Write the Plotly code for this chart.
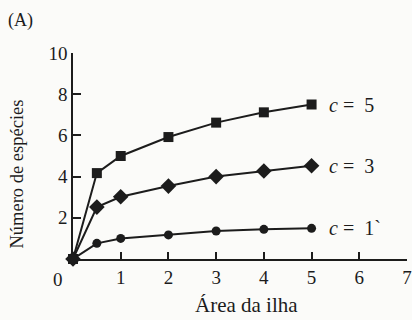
import plotly.graph_objects as go

area = [0, 0.5, 1, 2, 3, 4, 5]
s_c5 = [0, 4.17, 5.0, 5.92, 6.62, 7.12, 7.5]
s_c3 = [0, 2.52, 3.02, 3.54, 4.0, 4.27, 4.53]
s_c1 = [0, 0.76, 1.0, 1.17, 1.36, 1.44, 1.49]
series_labels = ["<i>c</i> =  5", "<i>c</i> =  3", "<i>c</i> =  1`"]
x_ticks = [1, 2, 3, 4, 5, 6, 7]
y_ticks = [2, 4, 6, 8, 10]

FONT = "Liberation Serif"
INK = "#1c1c1c"

fig = go.Figure()
specs = [(s_c5, "square", 10), (s_c3, "diamond", 12), (s_c1, "circle", 9)]
for ys, sym, sz in specs:
    fig.add_trace(go.Scatter(
        x=area, y=ys, mode="lines+markers",
        line=dict(color=INK, width=2),
        marker=dict(symbol=sym, size=sz, color=INK),
        cliponaxis=False, showlegend=False,
    ))

for ys, lab in zip([s_c5, s_c3, s_c1], series_labels):
    fig.add_annotation(x=5.32, y=ys[-1], text=lab.replace("  ", "\u00a0 "),
                       showarrow=False, xanchor="left", yanchor="middle",
                       font=dict(family=FONT, size=20, color=INK))

fig.add_annotation(x=0, y=0, text="0", showarrow=False, xanchor="center",
                   yanchor="top", xshift=-15, yshift=-8,
                   font=dict(family=FONT, size=19, color=INK))
fig.add_annotation(x=0, y=1, xref="paper", yref="paper", text="(A)",
                   showarrow=False, xanchor="left", yanchor="middle",
                   xshift=-67, yshift=33,
                   font=dict(family=FONT, size=18, color=INK))
fig.add_annotation(x=0.52, y=0, xref="paper", yref="paper", text="Área da ilha",
                   showarrow=False, xanchor="center", yanchor="bottom",
                   yshift=-60, font=dict(family=FONT, size=21, color=INK))
fig.add_annotation(x=0, y=0.41, xref="paper", yref="paper",
                   text="Número de espécies", textangle=-90,
                   showarrow=False, xanchor="center", yanchor="middle",
                   xshift=-56, font=dict(family=FONT, size=18.5, color=INK))

fig.update_xaxes(range=[0, 7], tickvals=x_ticks, ticks="inside", ticklen=7,
                 tickwidth=1.5, tickcolor=INK, showline=True, linecolor=INK,
                 linewidth=1.5, showgrid=False, zeroline=False, automargin=False,
                 tickfont=dict(family=FONT, size=19, color=INK))
fig.update_yaxes(range=[0, 10], tickvals=y_ticks, ticks="inside", ticklen=8,
                 tickwidth=1.5, tickcolor=INK, showline=True, linecolor=INK,
                 linewidth=1.5, showgrid=False, zeroline=False, automargin=False,
                 tickfont=dict(family=FONT, size=19, color=INK))

fig.update_layout(width=412, height=320,
                  margin=dict(l=73, r=5, t=53, b=61),
                  paper_bgcolor="#fbfbf9", plot_bgcolor="#fbfbf9")
fig.write_html("out.html", config={"displayModeBar": False},
               post_script="document.body.style.margin='0';"
                           "document.body.style.overflow='hidden';")
